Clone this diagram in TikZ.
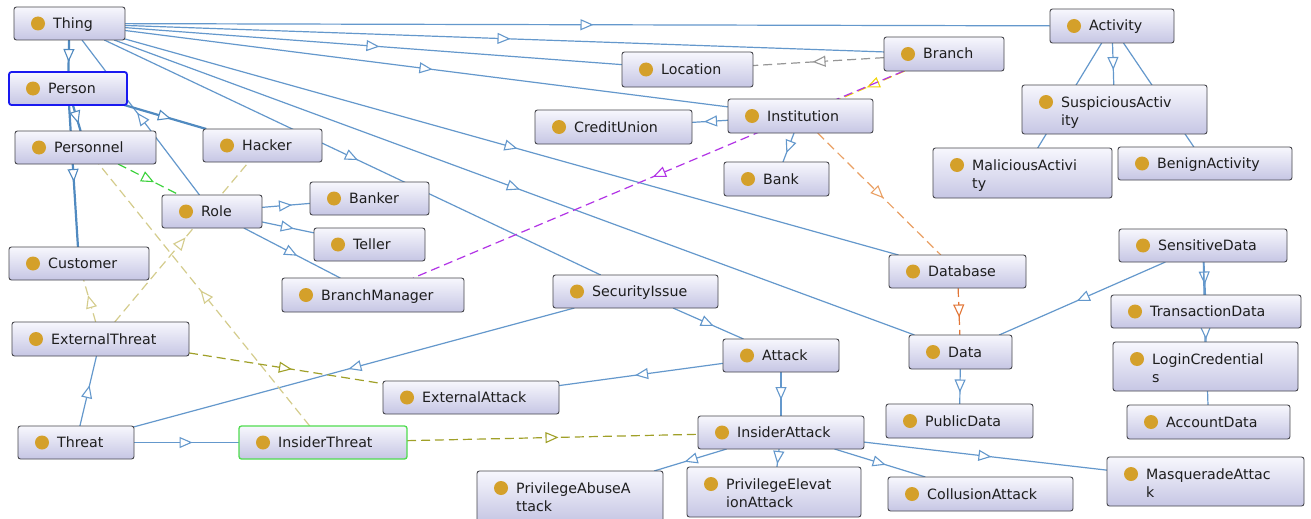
\documentclass[tikz,border=0pt]{standalone}
\usepackage{fontspec}
\setmainfont{DejaVu Sans}
\usetikzlibrary{arrows.meta,decorations.markings}
\pgfdeclarelayer{back}
\pgfdeclarelayer{bg}
\pgfsetlayers{back,bg,main}
\definecolor{edgeblue}{RGB}{100,152,204}
\definecolor{thickblue}{RGB}{80,138,192}
\definecolor{lavtop}{RGB}{247,247,253}
\definecolor{lavbot}{RGB}{198,198,228}
\definecolor{boxdraw}{RGB}{70,70,76}
\definecolor{dotc}{RGB}{212,160,42}
\definecolor{txt}{RGB}{30,30,30}
\definecolor{gdash}{RGB}{150,150,150}
\definecolor{pdash}{RGB}{178,52,230}
\definecolor{ydash}{RGB}{242,212,0}
\definecolor{odash}{RGB}{234,160,100}
\definecolor{otwo}{RGB}{226,118,55}
\definecolor{gndash}{RGB}{60,210,60}
\definecolor{kdash}{RGB}{212,204,140}
\definecolor{oldash}{RGB}{160,160,40}
\definecolor{selblue}{RGB}{25,25,240}
\definecolor{selgreen}{RGB}{80,220,80}
\tikzset{
  box/.style={draw=boxdraw,line width=0.9pt,rounded corners=2.5pt,top color=lavtop,bottom color=lavbot,inner sep=0pt,outer sep=0pt},
  personbox/.style={draw=selblue,line width=1.8pt},
  greenbox/.style={draw=selgreen,line width=1.3pt},
  lbl/.style={font=\fontsize{14.2}{17}\selectfont,text=txt,inner sep=0pt},
  midarrow/.style={postaction={decorate,decoration={markings,mark=at position 0.5 with {\arrow[xshift=6pt]{Triangle[fill=white,length=13pt,width=11pt,line width=1.1pt]}}}}},
  isa/.style={draw=edgeblue,line width=1.2pt,midarrow},
  isathick/.style={draw=thickblue,line width=2.2pt,midarrow},
  rel/.style={line width=1.2pt,dash pattern=on 9pt off 5pt,midarrow},
}
\newcommand\onecls[7]{%
  \node[box,#2,minimum width={#5-#3},minimum height={#6-#4},anchor=north west] (#1) at (#3,#4) {};
  \fill[dotc] (#3+24,{(#4+#6)/2}) circle[radius=7pt];
  \node[lbl,anchor=base west] (#1-l) at (#3+39,{(#4+#6)/2+5}) {#7};
}
\newcommand\twocls[8]{%
  \node[box,#2,minimum width={#5-#3},minimum height={#6-#4},anchor=north west] (#1) at (#3,#4) {};
  \fill[dotc] (#3+24,#4+17) circle[radius=7pt];
  \node[lbl,anchor=base west] (#1-l) at (#3+39,#4+22) {#7};
  \node[lbl,anchor=base west] (#1-m) at (#3+39,#4+40) {#8};
}
\begin{document}
\begin{tikzpicture}[x=1pt,y=-1pt]
\useasboundingbox (0,0) rectangle (1311,519);
\begin{pgfonlayer}{back}
\fill[white] (0,0) rectangle (1311,519);
\end{pgfonlayer}
% classes
\onecls{thing}{}{14}{7}{125}{40}{Thing}
\onecls{person}{personbox}{9}{72}{127}{105}{Person}
\onecls{personnel}{}{15}{131}{156}{164}{Personnel}
\onecls{hacker}{}{203}{129}{322}{162}{Hacker}
\onecls{role}{}{162}{195}{262}{228}{Role}
\onecls{banker}{}{310}{182}{429}{215}{Banker}
\onecls{teller}{}{314}{228}{425}{261}{Teller}
\onecls{customer}{}{9}{247}{149}{280}{Customer}
\onecls{bmgr}{}{282}{278}{464}{312}{BranchManager}
\onecls{extthreat}{}{12}{322}{189}{356}{ExternalThreat}
\onecls{threat}{}{18}{426}{134}{459}{Threat}
\onecls{insthreat}{greenbox}{239}{426}{407}{459}{InsiderThreat}
\onecls{extattack}{}{383}{381}{559}{414}{ExternalAttack}
\onecls{attack}{}{723}{339}{839}{372}{Attack}
\onecls{insattack}{}{698}{416}{864}{449}{InsiderAttack}
\twocls{paa}{}{477}{471}{663}{522}{PrivilegeAbuseA}{ttack}
\twocls{pea}{}{687}{467}{861}{517}{PrivilegeElevat}{ionAttack}
\onecls{collusion}{}{888}{477}{1073}{511}{CollusionAttack}
\twocls{masq}{}{1107}{457}{1304}{506}{MasqueradeAttac}{k}
\onecls{publicdata}{}{886}{404}{1033}{438}{PublicData}
\onecls{accountdata}{}{1127}{405}{1290}{439}{AccountData}
\onecls{secissue}{}{553}{275}{718}{308}{SecurityIssue}
\onecls{bank}{}{724}{162}{829}{196}{Bank}
\onecls{database}{}{889}{255}{1026}{288}{Database}
\onecls{data}{}{909}{335}{1012}{369}{Data}
\onecls{sensdata}{}{1119}{229}{1287}{262}{SensitiveData}
\onecls{transdata}{}{1111}{295}{1301}{328}{TransactionData}
\twocls{login}{}{1113}{342}{1298}{391}{LoginCredential}{s}
\onecls{location}{}{622}{52}{753}{87}{Location}
\onecls{institution}{}{728}{99}{873}{133}{Institution}
\onecls{creditunion}{}{535}{110}{692}{144}{CreditUnion}
\onecls{branch}{}{884}{37}{1004}{71}{Branch}
\onecls{activity}{}{1050}{9}{1174}{43}{Activity}
\twocls{susp}{}{1022}{85}{1207}{134}{SuspiciousActiv}{ity}
\twocls{malicious}{}{933}{148}{1112}{198}{MaliciousActivi}{ty}
\onecls{benign}{}{1118}{147}{1292}{180}{BenignActivity}
% connectors
\begin{pgfonlayer}{bg}
\draw[isa] (thing) -- (activity);
\draw[isa] (thing) -- (branch);
\draw[isa] (thing) -- (location);
\draw[isa] (thing) -- (institution);
\draw[isa] (thing) -- (database);
\draw[isa] (thing) -- (data);
\draw[isa] (thing) -- (secissue);
\draw[isa] (role) -- (thing);
\draw[isathick] (thing) -- (person);
\draw[isathick] (person) -- (personnel);
\draw[isathick] (person) -- (customer);
\draw[isathick] (person) -- (hacker);
\draw[isa] (role) -- (banker);
\draw[isa] (role) -- (teller);
\draw[isa] (role) -- (bmgr);
\draw[isa] (secissue) -- (attack);
\draw[isa] (secissue) -- (threat);
\draw[isa] (attack) -- (extattack);
\draw[isa] (attack) -- (insattack);
\draw[isa] (insattack) -- (paa);
\draw[isa] (insattack) -- (pea);
\draw[isa] (insattack) -- (collusion);
\draw[isa] (insattack) -- (masq);
\draw[isa] (threat) -- (extthreat);
\draw[isa] (threat) -- (insthreat);
\draw[isa] (institution) -- (creditunion);
\draw[isa] (institution) -- (bank);
\draw[isa] (activity) -- (susp);
\draw[isa] (activity) -- (malicious);
\draw[isa] (activity) -- (benign);
\draw[isa,line width=1.6pt] (sensdata) -- (transdata);
\draw[isa] (sensdata) -- (login);
\draw[isa] (sensdata) -- (accountdata);
\draw[isa] (sensdata) -- (data);
\draw[isa] (data) -- (publicdata);
\draw[rel,draw=gdash] (branch) -- (location);
\draw[rel,draw=ydash] (branch) -- (institution);
\draw[rel,draw=pdash] (branch) -- (bmgr);
\draw[rel,draw=odash] (institution) -- (database);
\draw[rel,draw=otwo] (database) -- (data);
\draw[rel,draw=gndash] (personnel) -- (role);
\draw[rel,draw=kdash] (extthreat) -- (hacker);
\draw[rel,draw=kdash] (extthreat) -- (customer);
\draw[rel,draw=kdash] (insthreat) -- (personnel);
\draw[rel,draw=oldash] (extthreat) -- (extattack);
\draw[rel,draw=oldash] (insthreat) -- (insattack);
\end{pgfonlayer}
\end{tikzpicture}
\end{document}
